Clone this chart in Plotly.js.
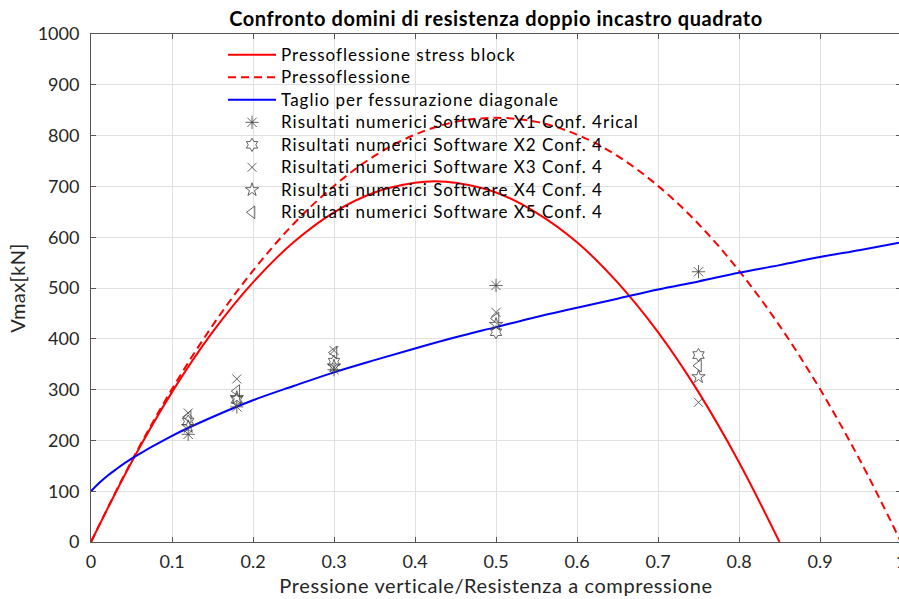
<!DOCTYPE html>
<html>
<head>
<meta charset="utf-8">
<script src="https://cdn.plot.ly/plotly-3.0.1.min.js"></script>
<style>
  html, body { margin: 0; padding: 0; overflow: hidden; background: #ffffff; }
  #chart { width: 902px; height: 599px; }
  /* Slightly wider text run for the titles and legend labels */
  #chart .gtitle { letter-spacing: 0.6px; }
  #chart .xtitle { letter-spacing: 0.6px; }
  #chart .ytitle { letter-spacing: 0.4px; }
  #chart .legendtext { font-size: 17px !important; letter-spacing: 1px; }
  #chart .legend .scrollbox { clip-path: none !important; }
</style>
</head>
<body>
<div id="chart"></div>
<script>
// Normalised vertical pressure (sigma0 / fm)
const pStress = [0, 0.05, 0.1, 0.15, 0.2, 0.25, 0.3, 0.35, 0.4, 0.425, 0.45, 0.5, 0.55, 0.6, 0.65, 0.7, 0.75, 0.8, 0.85];
// Flexural strength, stress-block model [kN]
const vStress = [0, 157, 295, 413, 511, 590, 649, 688, 707, 710, 707, 688, 648, 590, 511, 413, 295, 157, 0];

const pFlex = [0, 0.05, 0.1, 0.15, 0.2, 0.25, 0.3, 0.35, 0.4, 0.45, 0.5, 0.55, 0.6, 0.65, 0.7, 0.75, 0.8, 0.85, 0.9, 0.95, 1.0];
// Flexural strength [kN]
const vFlex = [0, 159, 301, 426, 534, 626, 701, 760, 802, 827, 835, 827, 802, 760, 701, 626, 534, 426, 301, 159, 0];

const pShear = [0, 0.01, 0.02, 0.03, 0.05, 0.1, 0.15, 0.2, 0.25, 0.3, 0.35, 0.4, 0.45, 0.5, 0.55, 0.6, 0.65, 0.7, 0.75, 0.8, 0.85, 0.9, 0.95, 1.0];
// Diagonal cracking shear strength [kN]
const vShear = [100, 116, 130, 142, 164, 209, 246, 279, 307, 334, 358, 381, 403, 423, 443, 461, 479, 497, 513, 530, 545, 561, 575, 590];

// Numerical results, pressure levels tested
const pTests = [0.12, 0.18, 0.3, 0.5, 0.75];
const vX1 = [212, 266, 339, 505, 532];
const vX2 = [237, 280, 355, 413, 368];
const vX3 = [254, 321, 377, 452, 275];
const vX4 = [227, 284, 346, 428, 325];
const vX5 = [246, 297, 373, 440, 347];

const names = [
  'Pressoflessione stress block',
  'Pressoflessione',
  'Taglio per fessurazione diagonale',
  'Risultati numerici Software X1 Conf. 4rical',
  'Risultati numerici Software X2 Conf. 4',
  'Risultati numerici Software X3 Conf. 4',
  'Risultati numerici Software X4 Conf. 4',
  'Risultati numerici Software X5 Conf. 4'
];

const FONT = 'Lato, "Open Sans", sans-serif';
const markerColor = '#3c3c3c';

function markers(y, name, symbol, size) {
  return {
    x: pTests, y: y, name: name, type: 'scatter', mode: 'markers',
    marker: { symbol: symbol, size: size, color: markerColor,
              line: { color: markerColor, width: 0.8 } }
  };
}

const traces = [
  { x: pStress, y: vStress, name: names[0], type: 'scatter', mode: 'lines',
    line: { color: '#ff0000', width: 2, shape: 'spline', smoothing: 1 } },
  { x: pFlex, y: vFlex, name: names[1], type: 'scatter', mode: 'lines',
    line: { color: '#ff0000', width: 2, dash: '8px,5px', shape: 'spline', smoothing: 1 } },
  { x: pShear, y: vShear, name: names[2], type: 'scatter', mode: 'lines',
    line: { color: '#0000ff', width: 2, shape: 'spline', smoothing: 1 } },
  markers(vX1, names[3], 'asterisk-open', 11),
  markers(vX2, names[4], 'hexagram-open', 10),
  markers(vX3, names[5], 'x-thin-open', 9),
  markers(vX4, names[6], 'star-open', 10),
  markers(vX5, names[7], 'triangle-left-open', 11)
];

const axisCommon = {
  showline: true, linecolor: '#555555', linewidth: 1, mirror: 'ticks',
  ticks: 'inside', ticklen: 5, tickcolor: '#555555',
  showgrid: true, gridcolor: '#e0e0e0', gridwidth: 1,
  zeroline: false,
  tickfont: { family: FONT, size: 18, color: '#262626' }
};

const layout = {
  width: 902, height: 599,
  margin: { l: 91, r: 1, t: 34, b: 57 },
  paper_bgcolor: '#ffffff', plot_bgcolor: '#ffffff',
  font: { family: FONT, color: '#262626' },
  title: {
    text: '<b>Confronto domini di resistenza doppio incastro quadrato</b>',
    font: { family: FONT, size: 20, color: '#000000' },
    x: 0.5, xref: 'paper', xanchor: 'center',
    y: 1, yref: 'paper', yanchor: 'bottom', pad: { b: 8 }
  },
  xaxis: Object.assign({}, axisCommon, {
    range: [0, 1], tickvals: [0, 0.1, 0.2, 0.3, 0.4, 0.5, 0.6, 0.7, 0.8, 0.9, 1],
    ticktext: ['0', '0.1', '0.2', '0.3', '0.4', '0.5', '0.6', '0.7', '0.8', '0.9', '1'],
    ticklabeloverflow: 'allow', ticklabelstandoff: 3,
    title: { text: 'Pressione verticale/Resistenza a compressione',
             font: { family: FONT, size: 20, color: '#262626' }, standoff: 8 }
  }),
  yaxis: Object.assign({}, axisCommon, {
    range: [0, 1000], dtick: 100, ticklabelstandoff: 7,
    title: { text: 'Vmax[kN]', font: { family: FONT, size: 20, color: '#262626' }, standoff: 6 }
  }),
  legend: {
    x: 0.163, y: 0.991, xanchor: 'left', yanchor: 'top',
    bgcolor: 'rgba(0,0,0,0)', borderwidth: 0,
    font: { family: FONT, size: 15, color: '#000000' },
    itemwidth: 48, tracegroupgap: 0
  },
  showlegend: true
};

Plotly.newPlot('chart', traces, layout, { displayModeBar: false, staticPlot: true });
</script>
</body>
</html>
